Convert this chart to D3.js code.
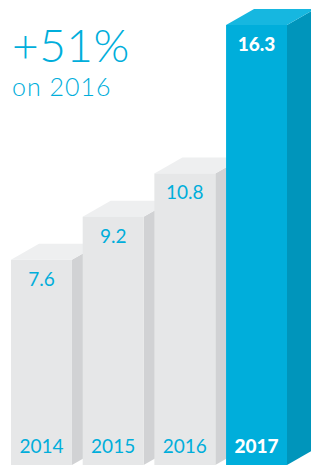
<!DOCTYPE html>
<html>
<head>
<meta charset="utf-8">
<script src="https://cdn.jsdelivr.net/npm/d3@7"></script>
<style>
  html, body { margin: 0; padding: 0; background: #fff; }
  svg { display: block; }
</style>
</head>
<body>
<svg id="chart" width="311" height="465"></svg>
<script>
const years = ["2014", "2015", "2016", "2017"];
const values = [7.6, 9.2, 10.8, 16.3];
const valueLabels = ["7.6", "9.2", "10.8", "16.3"];
const headline = "+51%";
const subline = "on 2016";

const depth = {dx: 28, dy: 16};
const blue = "#00aedb";
const font = "Lato, 'Noto Sans', sans-serif";

const svg = d3.select("#chart");

// X scale: front faces of the boxes
const x = d3.scaleBand()
    .domain(years)
    .range([11, 287])
    .paddingInner(0.15)
    .paddingOuter(0);

// Y scale: 0 at the bottom of the picture
const y = d3.scaleLinear()
    .domain([0, 16.3])
    .range([465, 25]);

const data = years.map((yr, i) => ({year: yr, value: values[i], label: valueLabels[i], last: i === years.length - 1}));

const colours = d => d.last
    ? {front: blue, top: "#16b7e0", side: "#0095bb"}
    : {front: "#e6e7e8", top: "#eeeff0", side: "#d1d2d4"};

const bars = svg.selectAll(".bar")
    .data(data)
    .enter().append("g")
    .attr("class", "bar");

// side face
bars.append("path")
    .attr("fill", d => colours(d).side)
    .attr("d", d => {
        const x1 = x(d.year) + x.bandwidth();
        const t = y(d.value), b = y(0);
        return `M${x1},${t} L${x1 + depth.dx},${t - depth.dy} L${x1 + depth.dx},${b - depth.dy} L${x1},${b} Z`;
    });

// top face
bars.append("path")
    .attr("fill", d => colours(d).top)
    .attr("d", d => {
        const x0 = x(d.year), x1 = x0 + x.bandwidth();
        const t = y(d.value);
        return `M${x0},${t} L${x0 + depth.dx},${t - depth.dy} L${x1 + depth.dx},${t - depth.dy} L${x1},${t} Z`;
    });

// front face
bars.append("rect")
    .attr("x", d => x(d.year))
    .attr("y", d => y(d.value))
    .attr("width", x.bandwidth())
    .attr("height", d => y(0) - y(d.value))
    .attr("fill", d => colours(d).front);

// value labels
bars.append("text")
    .attr("x", d => x(d.year) + x.bandwidth() / 2)
    .attr("y", d => y(d.value) + 26)
    .attr("text-anchor", "middle")
    .attr("font-family", font)
    .attr("font-size", "19px")
    .attr("font-weight", d => d.last ? 900 : 400)
    .attr("fill", d => d.last ? "#fff" : blue)
    .text(d => d.label);

// year labels
bars.append("text")
    .attr("x", d => x(d.year) + x.bandwidth() / 2)
    .attr("y", 453)
    .attr("text-anchor", "middle")
    .attr("font-family", font)
    .attr("font-size", "19px")
    .attr("font-weight", d => d.last ? 900 : 400)
    .attr("fill", d => d.last ? "#fff" : blue)
    .text(d => d.year);

// headline
svg.append("text")
    .attr("x", 12)
    .attr("y", 62)
    .attr("font-family", font)
    .attr("font-size", "46px")
    .attr("font-weight", 300)
    .attr("letter-spacing", "0.5px")
    .attr("fill", blue)
    .text(headline);

svg.append("text")
    .attr("x", 12)
    .attr("y", 96)
    .attr("font-family", font)
    .attr("font-size", "25px")
    .attr("font-weight", 300)
    .attr("letter-spacing", "1px")
    .attr("fill", blue)
    .text(subline);
</script>
</body>
</html>
